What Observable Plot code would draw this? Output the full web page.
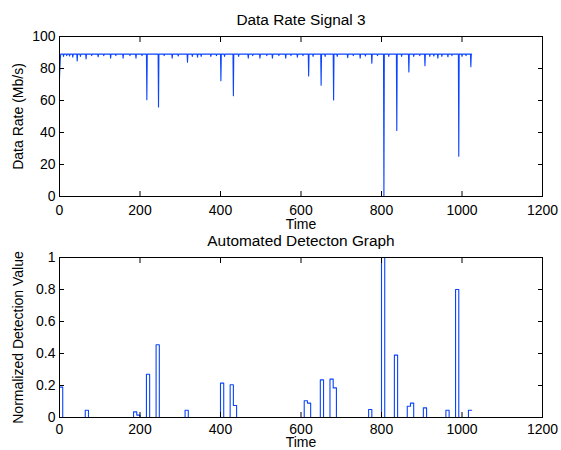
<!DOCTYPE html>
<html><head><meta charset="utf-8">
<script src="https://cdn.jsdelivr.net/npm/d3@7"></script>
<script src="https://cdn.jsdelivr.net/npm/@observablehq/plot@0.6"></script>
<style>
html,body{margin:0;padding:0;background:#fff;}
#wrap{position:relative;width:561px;height:450px;overflow:hidden;background:#fff;}
#wrap svg{position:absolute;left:0;}
</style>
</head><body><div id="wrap"></div>
<script>
// ---------- data ----------
const topTitle = "Data Rate Signal 3";
const topYLabel = "Data Rate (Mb/s)";
const bottomTitle = "Automated Detecton Graph";
const bottomYLabel = "Normalized Detection Value";
const xLabel = "Time";

const xTicks = [0, 200, 400, 600, 800, 1000, 1200];
const rateTicks = [0, 20, 40, 60, 80, 100];
const detTicks = [0, 0.2, 0.4, 0.6, 0.8, 1];

// Data rate signal: nominal level, start-up samples and dips
const rateBase = 89;
const rateEnd = 1024;
const startTimes = [0, 1, 2];
const startValues = [74, 80, 86];
const dipTimes = [10, 18, 25, 33, 44, 52, 66, 80, 96, 110, 127, 140, 158, 175, 190, 205, 217, 246, 260, 280, 295, 318, 330, 343, 352, 376, 390, 401, 410, 432, 445, 469, 480, 498, 515, 529, 545, 562, 575, 591, 605, 619, 630, 650, 660, 681, 690, 716, 730, 747, 760, 776, 790, 806, 818, 838, 850, 868, 880, 895, 908, 920, 930, 940, 950, 965, 975, 992, 1000, 1010, 1022];
const dipValues = [87.5, 88, 87.8, 87, 84.7, 87.5, 86, 88, 87.3, 88, 86.5, 88, 86.5, 88, 86.5, 88, 60.5, 56, 88, 86.5, 87.8, 84, 87.5, 87, 87.5, 87.5, 88, 72.3, 87.5, 63, 87.5, 86.5, 88, 86.5, 88, 86.5, 88, 86.5, 88, 87, 88, 75.3, 87.5, 69.5, 87.5, 60.3, 87.5, 86.8, 88, 86.5, 87.8, 83.3, 88, 0, 87.5, 41.3, 87.5, 77.8, 87.5, 88, 81.8, 87.5, 87.8, 86.5, 87.5, 87.3, 88, 25.2, 87.5, 88, 81.1];

// Detection: 8-sample windows (start time) with non-zero values
const detWindow = 8;
const detEnd = 1024;
const detStarts = [0, 64, 184, 192, 216, 240, 312, 400, 424, 432, 608, 616, 648, 672, 680, 768, 800, 832, 864, 872, 904, 960, 984, 1016];
const detValues = [0.19, 0.045, 0.035, 0.015, 0.27, 0.455, 0.045, 0.215, 0.205, 0.075, 0.105, 0.09, 0.235, 0.24, 0.185, 0.05, 1.0, 0.39, 0.07, 0.09, 0.06, 0.045, 0.8, 0.045];

// ---------- build tables ----------
const ratePts = [];
startTimes.forEach((t, i) => ratePts.push({t, v: startValues[i]}));
dipTimes.forEach((t, i) => {
  ratePts.push({t: t - 1, v: rateBase});
  ratePts.push({t, v: dipValues[i]});
  ratePts.push({t: t + 1, v: rateBase});
});
ratePts.push({t: 3, v: rateBase});
ratePts.push({t: rateEnd, v: rateBase});
ratePts.sort((a, b) => a.t - b.t);

const detMap = new Map(detStarts.map((s, i) => [s, detValues[i]]));
const detPts = [];
for (let s = 0; s < detEnd; s += detWindow) detPts.push({t: s, v: detMap.get(s) ?? 0});
detPts.push({t: detEnd, v: detPts[detPts.length - 1].v});

// ---------- styling ----------
const blue = "#0a44ff";
const font = "'Liberation Sans', Arial, Helvetica, sans-serif";
const baseStyle = {fontFamily: font, fontSize: "14px", color: "black", background: "transparent", overflow: "visible"};
const fmtX = d => String(d);
const fmtDet = d => String(+d.toFixed(1));
const blank = () => "";

function panel({data, curve, yDomain, yTicks, yFmt, height, mt, mb, title, titleDy, ylab, xPad, xlabDy}) {
  return Plot.plot({
    width: 561, height,
    marginTop: mt, marginBottom: mb, marginLeft: 59, marginRight: 19,
    style: baseStyle,
    x: {domain: [0, 1200]},
    y: {domain: yDomain},
    marks: [
      Plot.line(data, {x: "t", y: "v", stroke: blue, strokeWidth: 1.1, curve}),
      Plot.frame({stroke: "black", strokeWidth: 1}),
      Plot.axisX(xTicks, {anchor: "bottom", tickSize: 0, tickPadding: xPad, tickFormat: fmtX, label: null, fill: "black"}),
      Plot.axisX(xTicks, {anchor: "bottom", tickSize: -5, tickFormat: blank, label: null}),
      Plot.axisX(xTicks, {anchor: "top", tickSize: -5, tickFormat: blank, label: null}),
      Plot.axisY(yTicks, {anchor: "left", tickSize: 0, tickPadding: 4, tickFormat: yFmt, label: null, fill: "black"}),
      Plot.axisY(yTicks, {anchor: "left", tickSize: -5, tickFormat: blank, label: null}),
      Plot.axisY(yTicks, {anchor: "right", tickSize: -5, tickFormat: blank, label: null}),
      Plot.text([title], {frameAnchor: "top", dy: titleDy, lineAnchor: "bottom", textAnchor: "middle", fontSize: 15.4, fill: "black"}),
      Plot.text([xLabel], {frameAnchor: "bottom", dy: xlabDy, lineAnchor: "bottom", textAnchor: "middle", fontSize: 14, fill: "black"}),
      Plot.text([ylab], {frameAnchor: "left", dx: -40.5, rotate: -90, lineAnchor: "middle", textAnchor: "middle", fontSize: 14, fill: "black"})
    ]
  });
}

const wrap = document.getElementById("wrap");
const top1 = panel({data: ratePts, curve: "linear", yDomain: [0, 100], yTicks: rateTicks, yFmt: fmtX, height: 232, mt: 36, mb: 36,
  title: topTitle, titleDy: -12, ylab: topYLabel, xPad: 9, xlabDy: 32});
top1.style.top = "0px";
wrap.appendChild(top1);

const bot = panel({data: detPts, curve: "step-after", yDomain: [0, 1], yTicks: detTicks, yFmt: fmtDet, height: 218, mt: 25, mb: 33,
  title: bottomTitle, titleDy: -12, ylab: bottomYLabel, xPad: 7, xlabDy: 29.5});
bot.style.top = "232px";
wrap.appendChild(bot);
</script>
</body></html>
